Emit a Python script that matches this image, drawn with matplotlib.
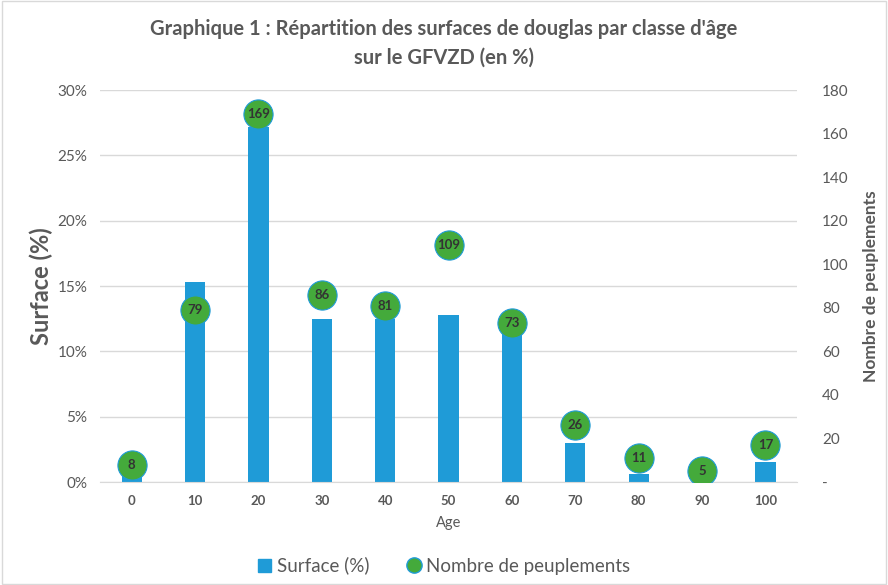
import matplotlib.pyplot as plt
from matplotlib.ticker import FuncFormatter
from matplotlib.lines import Line2D
from matplotlib.patches import Patch

plt.rcParams['font.family'] = ['Lato', 'DejaVu Sans']

ages = ["0", "10", "20", "30", "40", "50", "60", "70", "80", "90", "100"]
surface = [1.2, 15.3, 27.2, 12.5, 12.5, 12.8, 12.3, 2.95, 0.6, 0.2, 1.55]
peuplements = [8, 79, 169, 86, 81, 109, 73, 26, 11, 5, 17]

blue = "#1F9BD7"
green = "#44AA3B"
grey = "#595959"

fig = plt.figure(figsize=(8.88, 5.85), dpi=100)
ax = fig.add_axes([0.1126, 0.176, 0.785, 0.67])
x = range(len(ages))

ax.bar(x, surface, width=0.32, color=blue, zorder=2)
ax.set_ylim(0, 30)
ax.set_xlim(-0.5, len(ages) - 0.5)
ax.set_yticks(range(0, 31, 5))
ax.yaxis.set_major_formatter(FuncFormatter(lambda v, p: f"{int(v)}%"))
ax.grid(axis='y', color="#D9D9D9", lw=1, zorder=0)
ax.set_xticks(list(x))
ax.set_xticklabels(ages, fontsize=9.5, fontweight='bold', color=grey)
ax.tick_params(axis='y', labelsize=11, labelcolor=grey, length=0, pad=9)
ax.tick_params(axis='x', length=0, pad=9)
for s in ["top", "right", "left"]:
    ax.spines[s].set_visible(False)
ax.spines["bottom"].set_color("#D9D9D9")
ax.set_xlabel("Age", fontsize=10.5, color=grey, labelpad=7)
ax.set_ylabel("Surface (%)", fontsize=17, fontweight='bold', color=grey, labelpad=3)

ax2 = ax.twinx()
ax2.plot(x, peuplements, ls='none', marker='o', ms=21, mfc=green, mec=blue, mew=0.8, zorder=3)
for xi, v in zip(x, peuplements):
    ax2.text(xi, v, str(v), ha='center', va='center', fontsize=9.5, fontweight='bold', color="#333333", zorder=4)
ax2.set_ylim(0, 180)
ax2.set_yticks(range(0, 181, 20))
ax2.yaxis.set_major_formatter(FuncFormatter(lambda v, p: "-" if v == 0 else f"{int(v)}"))
ax2.tick_params(axis='y', labelsize=11, labelcolor=grey, length=0, pad=18)
for s in ax2.spines.values():
    s.set_visible(False)
ax2.set_ylabel("Nombre de peuplements", fontsize=12.5, fontweight='bold', color=grey, labelpad=10)

fig.text(0.5, 0.926, "Graphique 1 : Répartition des surfaces de douglas par classe d'âge\nsur le GFVZD (en %)",
         ha='center', va='center', fontsize=14.5, fontweight='bold', color=grey, linespacing=1.5)

handles = [Patch(color=blue, label="Surface (%)"),
           Line2D([], [], ls='none', marker='o', ms=11, mfc=green, mec=blue, label="Nombre de peuplements")]
fig.legend(handles=handles, loc='center', bbox_to_anchor=(0.5, 0.033), ncol=2, frameon=False,
           fontsize=13.5, labelcolor=grey, handlelength=0.7, handletextpad=0.3, columnspacing=2)

fig.patches.append(plt.Rectangle((0.002, 0.002), 0.996, 0.996, transform=fig.transFigure,
                                 fill=False, edgecolor="#D9D9D9", lw=1))

fig.savefig("out.png", dpi=100)
